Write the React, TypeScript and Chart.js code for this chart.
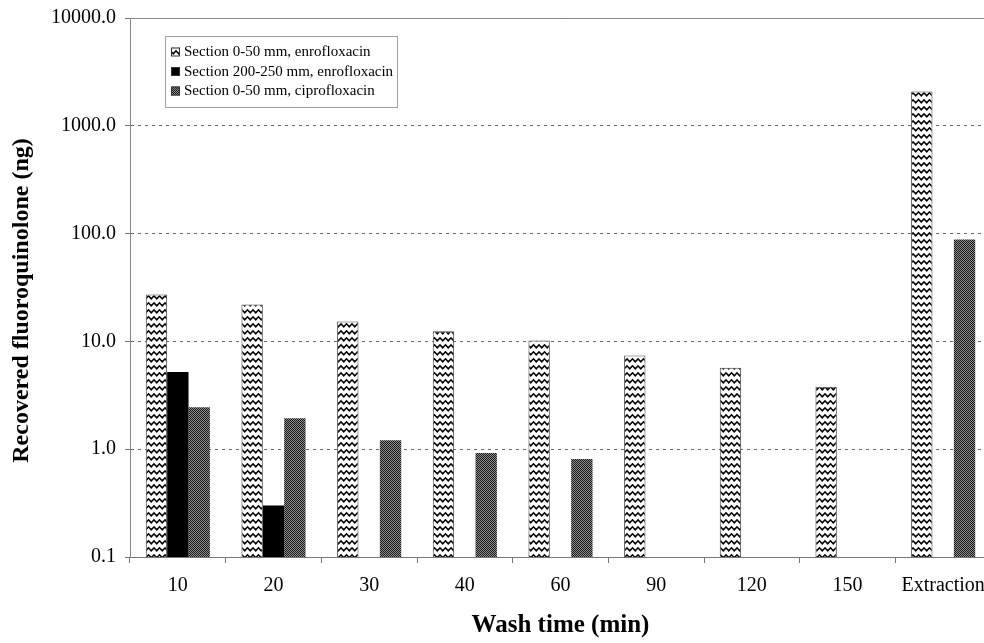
import React, { useEffect, useRef } from 'react';
import { Chart, registerables } from 'chart.js';

Chart.register(...registerables);

const categories = ['10', '20', '30', '40', '60', '90', '120', '150', 'Extraction'];
const seriesLabels = [
  'Section 0-50 mm, enrofloxacin',
  'Section 200-250 mm, enrofloxacin',
  'Section 0-50 mm, ciprofloxacin',
];
const enroShallow = [27.2, 22.0, 15.3, 12.4, 10.2, 7.4, 5.7, 3.8, 2080];
const enroDeep = [5.2, 0.3, null, null, null, null, null, null, null];
const ciproShallow = [2.45, 1.94, 1.21, 0.92, 0.81, null, null, null, 88];
const yTickValues = [0.1, 1, 10, 100, 1000, 10000];
const yTitle = 'Recovered fluoroquinolone (ng)';
const xTitle = 'Wash time (min)';

const SERIF = '"Liberation Serif", "Times New Roman", serif';

function makeZigzag(ctx: CanvasRenderingContext2D) {
  const c = document.createElement('canvas');
  c.width = 11;
  c.height = 7;
  const g = c.getContext('2d')!;
  g.fillStyle = '#ffffff';
  g.fillRect(0, 0, 11, 7);
  g.strokeStyle = '#000000';
  g.lineWidth = 1.5;
  g.beginPath();
  const hi = 1.8;
  const lo = 4.8;
  g.moveTo(-2.75, lo);
  g.lineTo(0, hi);
  g.lineTo(2.75, lo);
  g.lineTo(5.5, hi);
  g.lineTo(8.25, lo);
  g.lineTo(11, hi);
  g.lineTo(13.75, lo);
  g.stroke();
  return ctx.createPattern(c, 'repeat')!;
}

function makeDots(ctx: CanvasRenderingContext2D) {
  const c = document.createElement('canvas');
  c.width = 2;
  c.height = 2;
  const g = c.getContext('2d')!;
  g.fillStyle = '#8c8c8c';
  g.fillRect(0, 0, 2, 2);
  g.fillStyle = '#1a1a1a';
  g.fillRect(0, 0, 1, 1);
  g.fillRect(1, 1, 1, 1);
  return ctx.createPattern(c, 'repeat')!;
}

const frameLegendPlugin = {
  id: 'frameLegend',
  afterDraw(chart: any) {
    const { ctx, chartArea } = chart;
    ctx.save();
    // solid top frame line
    ctx.strokeStyle = '#8a8a8a';
    ctx.lineWidth = 1;
    ctx.beginPath();
    ctx.moveTo(chartArea.left, chartArea.top + 0.5);
    ctx.lineTo(chartArea.right, chartArea.top + 0.5);
    ctx.stroke();

    // y-axis title (slightly below the plot's centre, as in the original)
    ctx.save();
    ctx.translate(22, (chartArea.top + chartArea.bottom) / 2 + 13);
    ctx.rotate(-Math.PI / 2);
    ctx.fillStyle = '#000';
    ctx.font = `bold 24px ${SERIF}`;
    ctx.textAlign = 'center';
    ctx.textBaseline = 'middle';
    ctx.fillText(yTitle, 0, 0);
    ctx.restore();

    // legend box
    const x = chartArea.left + 35;
    const y = chartArea.top + 18;
    const w = 232;
    const h = 71;
    ctx.fillStyle = '#ffffff';
    ctx.fillRect(x, y, w, h);
    ctx.strokeStyle = '#a0a0a0';
    ctx.strokeRect(x + 0.5, y + 0.5, w, h);
    chart.data.datasets.forEach((ds: any, i: number) => {
      const cy = y + 16 + i * 19.5;
      ctx.fillStyle = ds.backgroundColor;
      ctx.fillRect(x + 6, cy - 4.5, 9, 9);
      ctx.strokeStyle = '#333';
      ctx.strokeRect(x + 6.5, cy - 4, 8, 8);
      ctx.fillStyle = '#000';
      ctx.font = `15px ${SERIF}`;
      ctx.textBaseline = 'middle';
      ctx.textAlign = 'left';
      ctx.fillText(ds.label, x + 19, cy + 0.5);
    });
    ctx.restore();
  },
};

export default function App() {
  const ref = useRef<HTMLCanvasElement | null>(null);

  useEffect(() => {
    const canvas = ref.current!;
    const ctx = canvas.getContext('2d')!;
    const zig = makeZigzag(ctx);
    const dots = makeDots(ctx);

    const chart = new Chart(canvas, {
      type: 'bar',
      data: {
        labels: categories,
        datasets: [
          {
            label: seriesLabels[0],
            data: enroShallow,
            backgroundColor: zig as any,
            borderColor: '#444',
            borderWidth: 1,
          },
          {
            label: seriesLabels[1],
            data: enroDeep,
            backgroundColor: '#000000',
            borderColor: '#000000',
            borderWidth: 0,
          },
          {
            label: seriesLabels[2],
            data: ciproShallow,
            backgroundColor: dots as any,
            borderColor: '#777',
            borderWidth: 0,
          },
        ],
      },
      options: {
        responsive: false,
        animation: false,
        devicePixelRatio: 1,
        layout: { padding: { top: 18, right: 9, left: 0, bottom: 0 } },
        datasets: {
          bar: { categoryPercentage: 0.67, barPercentage: 1.0 },
        },
        plugins: {
          legend: { display: false },
          tooltip: { enabled: false },
        },
        scales: {
          x: {
            grid: {
              display: true,
              drawOnChartArea: false,
              drawTicks: true,
              tickLength: 6,
              color: '#777',
              offset: true,
            },
            border: { display: true, color: '#777', width: 1 },
            ticks: {
              color: '#000',
              font: { family: SERIF, size: 20 },
              padding: 11,
              maxRotation: 0,
              autoSkip: false,
            },
            title: {
              display: true,
              text: xTitle,
              color: '#000',
              font: { family: SERIF, size: 25, weight: 'bold' },
              padding: { top: 0, bottom: 2 },
            },
            afterFit(scale: any) {
              scale.height = 86;
              scale.paddingLeft = 0;
              scale.paddingRight = 0;
            },
          },
          y: {
            type: 'logarithmic',
            min: 0.1,
            max: 10000,
            grid: {
              color: '#666',
              lineWidth: 1,
              tickLength: 5,
              tickColor: '#777',
              tickBorderDash: [],
            },
            border: { display: true, color: '#888', width: 1, dash: [3, 4] },
            afterBuildTicks(scale: any) {
              scale.ticks = yTickValues.map((v) => ({ value: v }));
            },
            ticks: {
              color: '#000',
              font: { family: SERIF, size: 20 },
              padding: 9,
              autoSkip: false,
              callback: (v: any) => Number(v).toFixed(1),
            },
            title: { display: false },
            afterFit(scale: any) {
              scale.width = 130;
              scale.paddingTop = 0;
              scale.paddingBottom = 0;
            },
          },
        },
      },
      plugins: [frameLegendPlugin],
    });
    return () => chart.destroy();
  }, []);

  return (
    <div
      style={{
        position: 'fixed',
        left: 0,
        top: 0,
        width: 984,
        height: 643,
        overflow: 'hidden',
        background: '#fff',
      }}
    >
      <canvas ref={ref} width={1000} height={643} style={{ display: 'block', width: 1000, height: 643 }} />
    </div>
  );
}
